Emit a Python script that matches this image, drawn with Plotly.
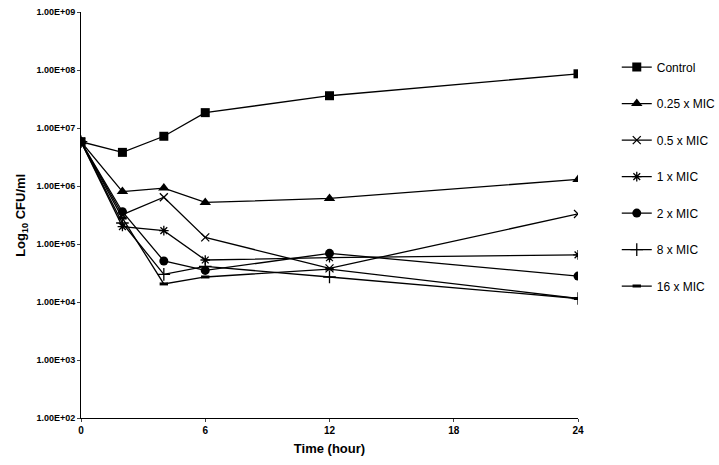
import plotly.graph_objects as go

hours = [0, 2, 4, 6, 12, 24]
series_names = ["Control", "0.25 x MIC", "0.5 x MIC", "1 x MIC", "2 x MIC", "8 x MIC", "16 x MIC"]
control = [5.8e6, 3.8e6, 7.2e6, 1.84e7, 3.6e7, 8.6e7]
mic_025 = [5.8e6, 8.0e5, 9.2e5, 5.2e5, 6.1e5, 1.3e6]
mic_05 = [5.8e6, 3.2e5, 6.4e5, 1.3e5, 3.8e4, 3.3e5]
mic_1 = [5.8e6, 2.0e5, 1.7e5, 5.3e4, 5.8e4, 6.5e4]
mic_2 = [5.8e6, 3.6e5, 5.1e4, 3.5e4, 6.9e4, 2.8e4]
mic_8 = [5.8e6, 2.3e5, 3.0e4, 4.1e4, 2.7e4, 1.15e4]
mic_16 = [5.8e6, 2.8e5, 2.05e4, 2.7e4, 3.7e4, 1.15e4]
values = [control, mic_025, mic_05, mic_1, mic_2, mic_8, mic_16]

y_tickvals = [1e2, 1e3, 1e4, 1e5, 1e6, 1e7, 1e8, 1e9]
y_ticktext = ["1.00E+02", "1.00E+03", "1.00E+04", "1.00E+05", "1.00E+06", "1.00E+07", "1.00E+08", "1.00E+09"]
x_tickvals = [0, 6, 12, 18, 24]

symbols = ["square", "triangle-up", "x-thin", "asterisk", "circle", "cross-thin", "line-ew"]
sizes = [9, 10, 8, 8, 9, 9, 6]

fig = go.Figure()
for i, (name, vals) in enumerate(zip(series_names, values)):
    sym = symbols[i]
    thin = sym in ("x-thin", "asterisk", "cross-thin", "line-ew")
    fig.add_trace(go.Scatter(
        x=hours, y=vals, name=name, mode="lines+markers",
        legendgroup=name,
        line=dict(color="black", width=1.3),
        marker=dict(symbol=sym, size=sizes[i], color="black",
                    line=dict(color="black", width=(3 if sym == "line-ew" else 1.3) if thin else 0)),
    ))

font_family = "Liberation Sans, Arial, sans-serif"
fig.update_layout(
    width=719, height=465,
    margin=dict(l=81, r=141, t=12, b=47, autoexpand=False),
    paper_bgcolor="white", plot_bgcolor="white",
    font=dict(family=font_family, color="black"),
    showlegend=True,
    legend=dict(x=1.078, y=0.90, xanchor="left", yanchor="top",
                font=dict(size=12, family=font_family, color="black"),
                tracegroupgap=17.5, traceorder="grouped",
                bgcolor="rgba(0,0,0,0)", itemwidth=30),
    xaxis=dict(range=[0, 24], tickvals=x_tickvals, ticks="outside", ticklen=3,
               automargin=False,
               showgrid=False, zeroline=False, showline=True, linecolor="black", linewidth=1,
               tickfont=dict(size=10, family=font_family, color="black", weight="bold"),
               title=dict(text="<b>Time (hour)</b>", font=dict(size=13, family=font_family), standoff=8)),
    yaxis=dict(type="log", range=[2, 9], tickvals=y_tickvals, ticktext=y_ticktext,
               automargin=False,
               ticks="outside", ticklen=3, showgrid=False, zeroline=False,
               showline=True, linecolor="black", linewidth=1,
               tickfont=dict(size=9, family=font_family, color="black", weight="bold")),
    annotations=[dict(text="<b>Log<sub>10</sub> CFU/ml</b>", xref="paper", yref="paper",
                      x=-0.121, y=0.5, xanchor="center", yanchor="middle", textangle=-90,
                      showarrow=False, font=dict(size=13, family=font_family, color="black"))],
)

fig.write_html("out.html", config={"displayModeBar": False},
               post_script="document.body.style.margin='0';document.body.style.overflow='hidden';")
